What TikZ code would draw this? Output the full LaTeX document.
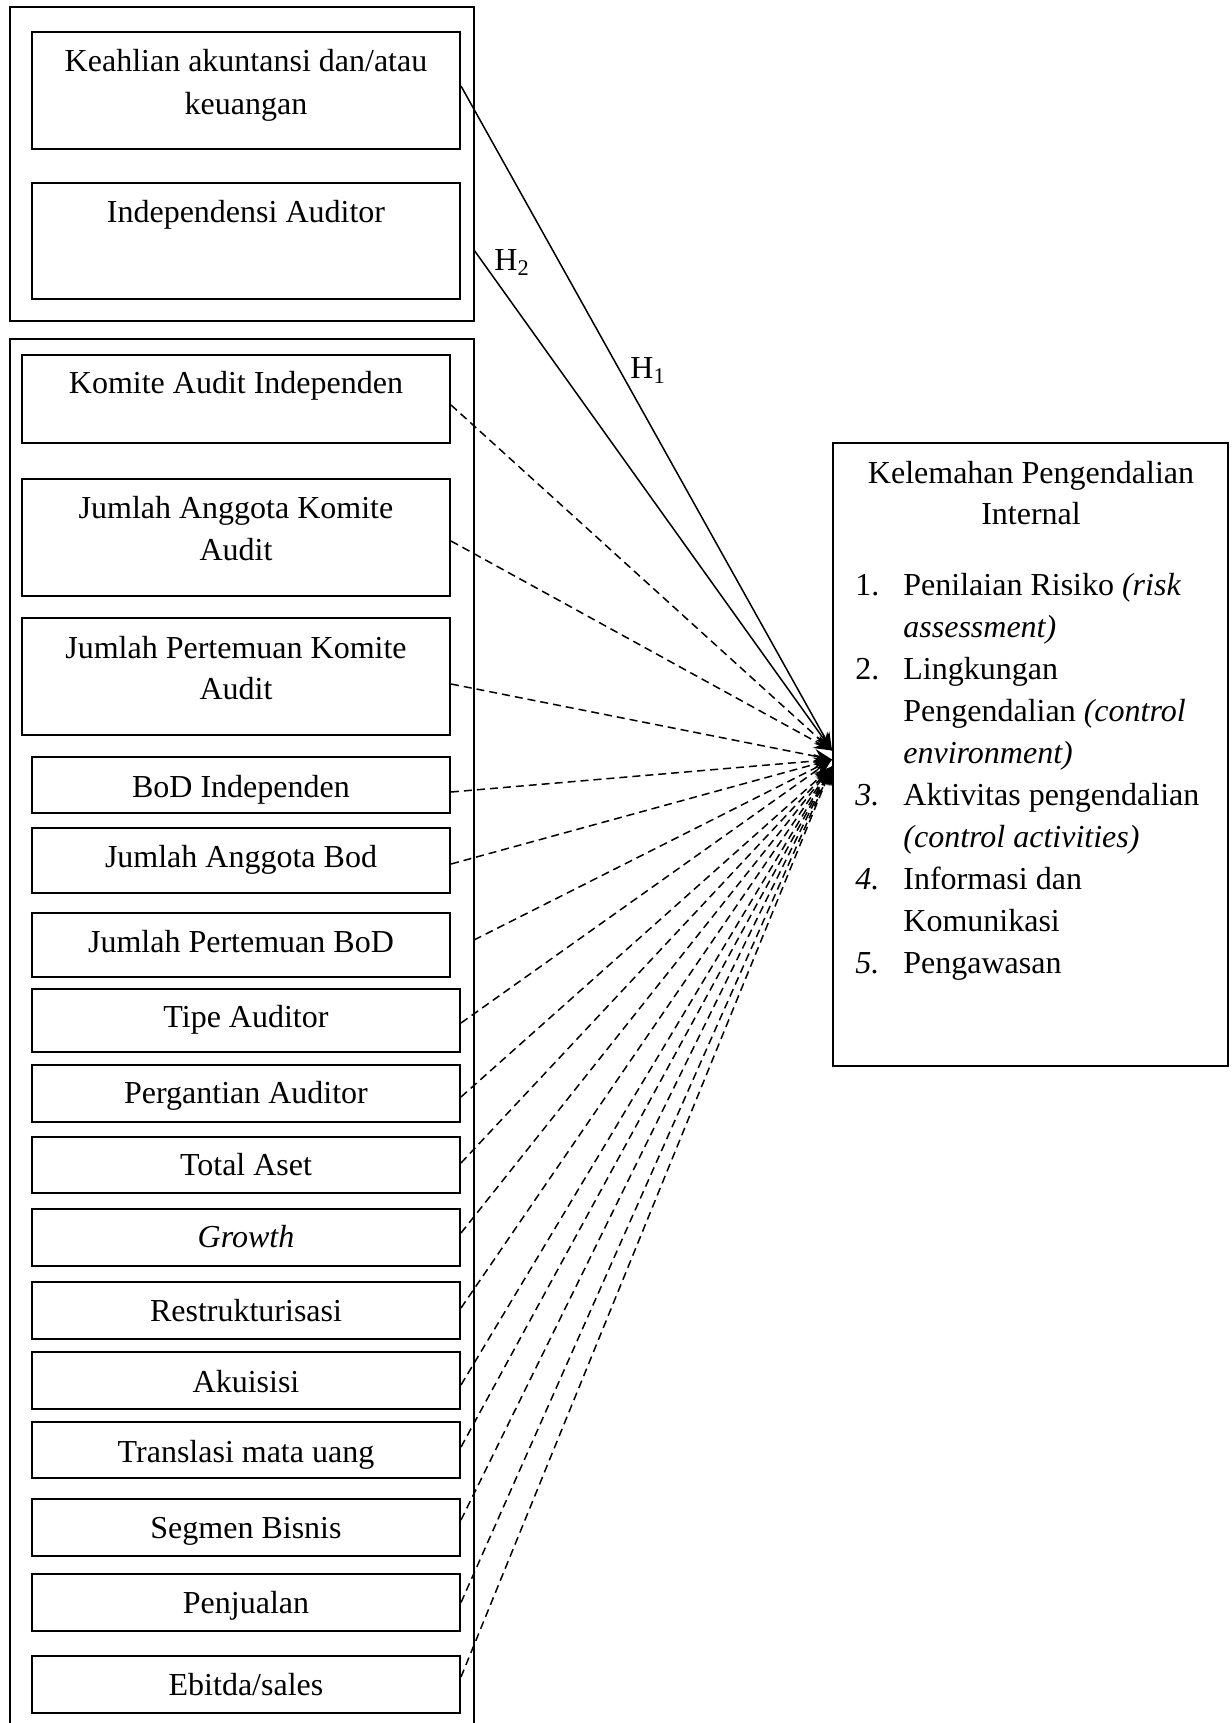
\documentclass[tikz,border=0pt]{standalone}
\usepackage{fontspec}
\setmainfont{Liberation Serif}
\usetikzlibrary{arrows.meta,fit}
\newcommand{\mfs}{\fontsize{16}{20.5}\selectfont}
\begin{document}
\begin{tikzpicture}[x=0.5pt,y=-0.5pt,
  box/.style={draw, line width=1pt, inner sep=0pt},
  txt/.style={anchor=base, inner sep=0pt, font=\mfs},
  txtl/.style={anchor=base west, inner sep=0pt, font=\mfs},
  conn/.style={line width=0.75pt, -{Stealth[length=9pt,width=7pt]}},
  dconn/.style={conn, dash pattern=on 4pt off 2.5pt}]
\fill[white] (0,0) rectangle (1231,1723);
\useasboundingbox (0,0) rectangle (1231,1723);

% outer groups
\node[box, fit={(9.5,7) (474,321)}] (outer1) {};
\node[box, fit={(9.5,339) (474,1745)}] (outer2) {};

% group 1
\node[box, fit={(32,32) (460,149)}] (ka) {};
\node[txt] (ka1) at (246,72) {Keahlian akuntansi dan/atau};
\node[txt] (ka2) at (246,114) {keuangan};
\node[box, fit={(32,183) (460,299)}] (ia) {};
\node[txt] (ia1) at (246,222) {Independensi Auditor};

% group 2
\node[box, fit={(22,355) (450,443)}] (kai) {};
\node[txt] (kai1) at (236,393) {Komite Audit Independen};
\node[box, fit={(22,479) (450,596)}] (jak) {};
\node[txt] (jak1) at (236,518) {Jumlah Anggota Komite};
\node[txt] (jak2) at (236,560) {Audit};
\node[box, fit={(22,618) (450,735)}] (jpk) {};
\node[txt] (jpk1) at (236,658) {Jumlah Pertemuan Komite};
\node[txt] (jpk2) at (236,699) {Audit};
\node[box, fit={(32,757) (450,813)}] (bi) {};
\node[txt] (bi1) at (241,797) {BoD Independen};
\node[box, fit={(32,828) (450,893)}] (jab) {};
\node[txt] (jab1) at (241,867) {Jumlah Anggota Bod};
\node[box, fit={(32,913) (450,977)}] (jpb) {};
\node[txt] (jpb1) at (241,952) {Jumlah Pertemuan BoD};
\node[box, fit={(32,989) (460,1052)}] (ta) {};
\node[txt] (ta1) at (246,1027) {Tipe Auditor};
\node[box, fit={(32,1065) (460,1122)}] (pa) {};
\node[txt] (pa1) at (246,1103) {Pergantian Auditor};
\node[box, fit={(32,1137) (460,1193)}] (tas) {};
\node[txt] (tas1) at (246,1175) {Total Aset};
\node[box, fit={(32,1209) (460,1266)}] (gr) {};
\node[txt] (gr1) at (246,1247) {\itshape Growth};
\node[box, fit={(32,1282) (460,1339)}] (re) {};
\node[txt] (re1) at (246,1321) {Restrukturisasi};
\node[box, fit={(32,1352) (460,1409)}] (ak) {};
\node[txt] (ak1) at (246,1392) {Akuisisi};
\node[box, fit={(32,1422) (460,1478)}] (tr) {};
\node[txt] (tr1) at (246,1462) {Translasi mata uang};
\node[box, fit={(32,1499) (460,1556)}] (sb) {};
\node[txt] (sb1) at (246,1538) {Segmen Bisnis};
\node[box, fit={(32,1574) (460,1631)}] (pe) {};
\node[txt] (pe1) at (246,1613) {Penjualan};
\node[box, fit={(32,1656) (460,1713)}] (eb) {};
\node[txt] (eb1) at (246,1695) {Ebitda/sales};

% dependent variable
\node[box, fit={(833,443) (1228,1066)}] (kpi) {};
\node[txt] (kpi1) at (1031,483) {Kelemahan Pengendalian};
\node[txt] (kpi2) at (1031,524) {Internal};
\node[txtl] (n1) at (855,595) {1.};
\node[txtl] (l1) at (903,595) {Penilaian Risiko \textit{(risk}};
\node[txtl] (l2) at (903,637) {\textit{assessment)}};
\node[txtl] (n2) at (855,679) {2.};
\node[txtl] (l3) at (903,679) {Lingkungan};
\node[txtl] (l4) at (903,721) {Pengendalian \textit{(control}};
\node[txtl] (l5) at (903,763) {\textit{environment)}};
\node[txtl] (n3) at (855,805) {\textit{3.}};
\node[txtl] (l6) at (903,805) {Aktivitas pengendalian};
\node[txtl] (l7) at (903,847) {\textit{(control activities)}};
\node[txtl] (n4) at (855,889) {\textit{4.}};
\node[txtl] (l8) at (903,889) {Informasi dan};
\node[txtl] (l9) at (903,931) {Komunikasi};
\node[txtl] (n5) at (855,973) {\textit{5.}};
\node[txtl] (l10) at (903,973) {Pengawasan};

% hypothesis labels
\node[txtl] (h2) at (494,270) {H\textsubscript{2}};
\node[txtl] (h1) at (630,378) {H\textsubscript{1}};

% connector points
\coordinate (tgtA) at ([yshift=2pt]kpi.west);
\coordinate (tgtB) at ([yshift=-2.5pt]kpi.west);
\coordinate (tgtC) at ([yshift=-6pt]kpi.west);
\coordinate (h2s) at (474,250);
\coordinate (jpbs) at (474,940);

% solid connectors
\draw[conn] ([yshift=2.25pt]ka.east) -- (tgtA);
\draw[conn] (h2s) -- (tgtA);

% dashed connectors
\draw[dconn] ([yshift=-3pt]kai.east) -- (tgtA);
\draw[dconn] ([yshift=-1.75pt]jak.east) -- (tgtA);
\draw[dconn] ([yshift=-3.75pt]jpk.east) -- (tgtB);
\draw[dconn] ([yshift=-3.5pt]bi.east) -- (tgtB);
\draw[dconn] ([yshift=-1.75pt]jab.east) -- (tgtB);
\draw[dconn] (jpbs) -- (tgtB);
\draw[dconn] ([yshift=-1.25pt]ta.east) -- (tgtB);
\draw[dconn] ([yshift=-1.75pt]pa.east) -- (tgtC);
\draw[dconn] ([yshift=1pt]tas.east) -- (tgtC);
\draw[dconn] ([yshift=2.25pt]gr.east) -- (tgtC);
\draw[dconn] ([yshift=1.25pt]re.east) -- (tgtC);
\draw[dconn] ([yshift=-2.25pt]ak.east) -- (tgtC);
\draw[dconn] ([yshift=1.5pt]tr.east) -- (tgtC);
\draw[dconn] ([yshift=3.75pt]sb.east) -- (tgtC);
\draw[dconn] (pe.east) -- (tgtC);
\draw[dconn] ([yshift=3.75pt]eb.east) -- (tgtC);
\end{tikzpicture}
\end{document}
